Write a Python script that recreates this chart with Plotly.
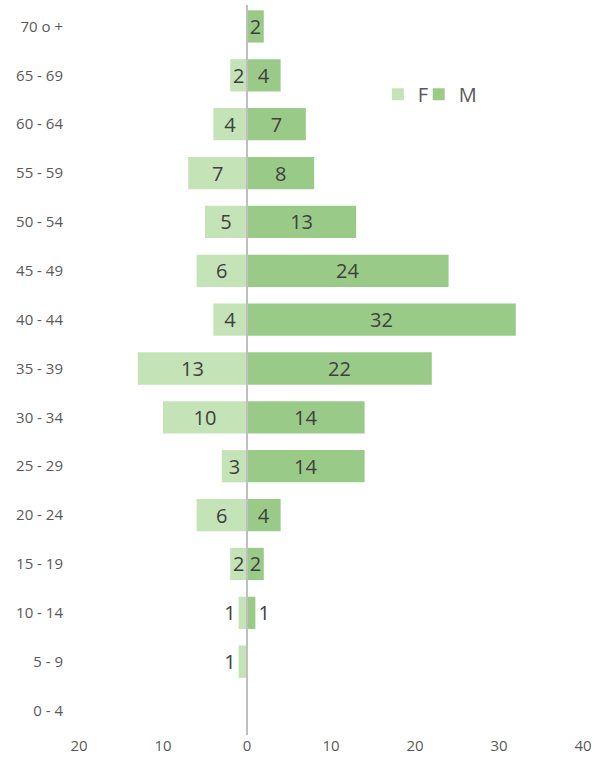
import plotly.graph_objects as go

# age groups, bottom to top
age_groups = ['0 - 4', '5 - 9', '10 - 14', '15 - 19', '20 - 24', '25 - 29', '30 - 34', '35 - 39',
              '40 - 44', '45 - 49', '50 - 54', '55 - 59', '60 - 64', '65 - 69', '70 o +']
females = [0, 1, 1, 2, 6, 3, 10, 13, 4, 6, 5, 7, 4, 2, 0]
males = [0, 0, 1, 2, 4, 14, 14, 22, 32, 24, 13, 8, 7, 4, 2]

x_ticks = [-20, -10, 0, 10, 20, 30, 40]
x_tick_labels = ['20', '10', '0', '10', '20', '30', '40']

F_COLOR = '#C4E3B7'
M_COLOR = '#9ACA88'
FONT = 'Open Sans, Liberation Sans, sans-serif'


def label(v):
    return str(v) if v else ''


def pos(v):
    # tiny bars get their label outside, like the original
    return 'outside' if v == 1 else 'inside'


fig = go.Figure()
fig.add_trace(go.Bar(
    y=age_groups, x=[-v for v in females], name='F', orientation='h', legend='legend',
    showlegend=True, marker=dict(color=F_COLOR, line=dict(width=0)),
    text=[label(v) for v in females], textposition=[pos(v) for v in females],
    insidetextanchor='middle', constraintext='none', cliponaxis=False, textangle=0,
    textfont=dict(size=20, color='#404040', family=FONT), hoverinfo='skip'))
fig.add_trace(go.Bar(
    y=age_groups, x=males, name='M', orientation='h', legend='legend2',
    showlegend=True, marker=dict(color=M_COLOR, line=dict(width=0)),
    text=[label(v) for v in males], textposition=[pos(v) for v in males],
    insidetextanchor='middle', constraintext='none', cliponaxis=False, textangle=0,
    textfont=dict(size=20, color='#404040', family=FONT), hoverinfo='skip'))

# vertical axis line at zero, drawn over the bars
fig.add_shape(type='line', xref='x', yref='paper', x0=0, x1=0, y0=0, y1=0.996,
              line=dict(color='#BFBFBF', width=2), layer='above')

legend_style = dict(orientation='h', y=0.874, xanchor='left', yanchor='middle',
                    font=dict(size=20, color='#595959'), itemwidth=30,
                    bgcolor='rgba(0,0,0,0)', visible=True)

fig.update_layout(
    width=604, height=770, barmode='overlay', bargap=0.34, showlegend=True,
    plot_bgcolor='white', paper_bgcolor='white',
    margin=dict(l=79, r=21, t=2, b=35, autoexpand=False),
    font=dict(family=FONT, color='#595959', size=15),
    legend=dict(x=0.593, **legend_style),
    legend2=dict(x=0.674, **legend_style),
    xaxis=dict(range=[-20, 40], tickvals=x_ticks, ticktext=x_tick_labels, showgrid=False,
               zeroline=False, showline=False, ticks='', automargin=False,
               tickfont=dict(size=15, color='#595959')),
    yaxis=dict(categoryorder='array', categoryarray=age_groups, range=[-0.5, 14.5],
               showgrid=False, zeroline=False, showline=False, ticks='', automargin=False,
               ticklabelstandoff=15, tickfont=dict(size=15, color='#595959')),
)

# drop the page's default body margin so the figure sits at the window corner
fig.write_html('out.html', config={'displayModeBar': False},
               post_script="document.body.style.margin='0';")
